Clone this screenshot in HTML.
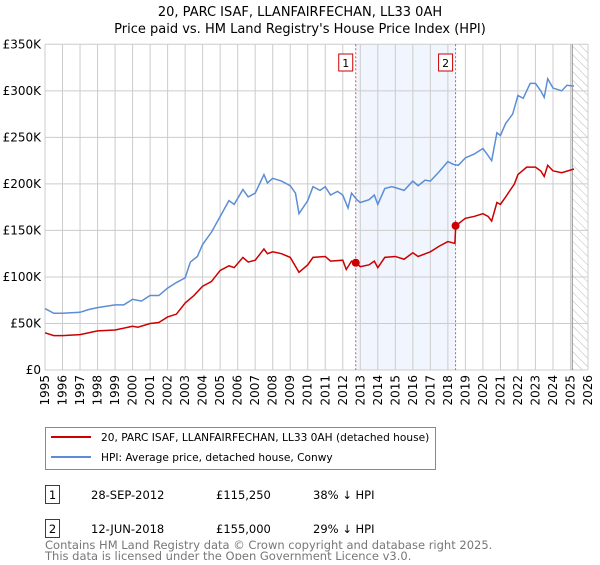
<!DOCTYPE html>
<html><head><meta charset="utf-8"><style>
body{margin:0;background:#fff;font-family:"Liberation Sans","DejaVu Sans",sans-serif;}
svg text{font-family:"DejaVu Sans","Liberation Sans",sans-serif;}
</style></head><body>
<svg id="c" width="600" height="560" xmlns="http://www.w3.org/2000/svg">
<defs><pattern id="hatch" width="6" height="6" patternUnits="userSpaceOnUse" patternTransform="rotate(-45)"><line x1="0" y1="0" x2="0" y2="6" stroke="#bbb" stroke-width="1"/></pattern></defs>
<text x="300" y="16" text-anchor="middle" font-size="13">20, PARC ISAF, LLANFAIRFECHAN, LL33 0AH</text>
<text x="300" y="33" text-anchor="middle" font-size="13">Price paid vs. HM Land Registry's House Price Index (HPI)</text>
<g id="plot"></g>
<g>
<rect x="45.5" y="427.5" width="390" height="42" fill="#fff" stroke="#888"/>
<line x1="51" y1="437" x2="91" y2="437" stroke="#cc0000" stroke-width="2"/>
<text x="101" y="441" font-size="10.6">20, PARC ISAF, LLANFAIRFECHAN, LL33 0AH (detached house)</text>
<line x1="51" y1="457" x2="91" y2="457" stroke="#5b8ed6" stroke-width="2"/>
<text x="101" y="461" font-size="10.6">HPI: Average price, detached house, Conwy</text>
</g>
<g font-size="11.5">
<rect x="45.5" y="485.5" width="14" height="18" fill="#fff" stroke="#cc0000"/><text x="52.5" y="499" text-anchor="middle">1</text>
<text x="91" y="499">28-SEP-2012</text><text x="216" y="499">£115,250</text><text x="313" y="499">38% ↓ HPI</text>
<rect x="45.5" y="519.5" width="14" height="18" fill="#fff" stroke="#cc0000"/><text x="52.5" y="533" text-anchor="middle">2</text>
<text x="91" y="533">12-JUN-2018</text><text x="216" y="533">£155,000</text><text x="313" y="533">29% ↓ HPI</text>
</g>
<text x="45" y="549" font-size="11.5" fill="#777">Contains HM Land Registry data © Crown copyright and database right 2025.</text>
<text x="45" y="560" font-size="11.5" fill="#777">This data is licensed under the Open Government Licence v3.0.</text>
</svg>
<script>
const yTicks=[0,50,100,150,200,250,300,350];
const yTickLabels=["£0","£50K","£100K","£150K","£200K","£250K","£300K","£350K"];
const xYears=[1995,1996,1997,1998,1999,2000,2001,2002,2003,2004,2005,2006,2007,2008,2009,2010,2011,2012,2013,2014,2015,2016,2017,2018,2019,2020,2021,2022,2023,2024,2025,2026];
const hpiT=[1995,1995.5,1996,1997,1997.5,1998,1999,1999.5,2000,2000.5,2001,2001.5,2002,2002.5,2003,2003.3,2003.7,2004,2004.5,2005,2005.5,2005.8,2006.3,2006.6,2007,2007.5,2007.7,2008,2008.5,2009,2009.3,2009.5,2010,2010.3,2010.7,2011,2011.3,2011.7,2012,2012.3,2012.5,2012.8,2013,2013.5,2013.8,2014,2014.4,2014.8,2015,2015.5,2016,2016.3,2016.7,2017,2017.5,2018,2018.3,2018.6,2019,2019.5,2020,2020.2,2020.5,2020.8,2021,2021.3,2021.7,2022,2022.3,2022.7,2023,2023.3,2023.5,2023.7,2024,2024.5,2024.8,2025.2];
const hpiV=[66,61,61,62,65,67,70,70,76,74,80,80,88,94,99,116,122,135,148,165,182,178,194,186,190,210,201,206,203,198,190,168,182,197,193,197,188,192,188,174,190,183,180,183,188,178,195,197,196,193,203,198,204,203,213,224,221,220,228,232,238,233,225,255,252,265,275,295,292,308,308,300,293,313,303,300,306,305];
const ppT=[1995,1995.5,1996,1997,1998,1999,2000,2000.3,2001,2001.5,2002,2002.5,2003,2003.5,2004,2004.5,2005,2005.5,2005.8,2006.3,2006.6,2007,2007.5,2007.7,2008,2008.5,2009,2009.5,2010,2010.3,2011,2011.3,2012,2012.2,2012.5,2012.75,2013,2013.5,2013.8,2014,2014.4,2015,2015.5,2016,2016.3,2017,2017.5,2018,2018.4,2018.45,2019,2019.5,2020,2020.3,2020.5,2020.8,2021,2021.3,2021.8,2022,2022.5,2023,2023.3,2023.5,2023.7,2024,2024.5,2025.2];
const ppV=[40,37,37,38,42,43,47,46,50,51,57,60,72,80,90,95,107,112,110,121,116,118,130,125,127,125,121,105,113,121,122,117,118,108,117,115.25,111,113,117,110,121,122,119,126,122,127,133,138,136,155,163,165,168,165,160,180,178,186,200,210,218,218,214,208,220,214,212,216];
const saleT=[2012.74,2018.44];
const saleV=[115.25,155];
const saleLabels=["1","2"];
const X0=45,X1=588,Y0=370,Y1=44.3;
const x=t=>X0+(t-1995)/(2026-1995)*(X1-X0);
const y=v=>Y0-v/350*(Y0-Y1);
const NS="http://www.w3.org/2000/svg";
const g=document.getElementById('plot');
function mk(tag,at){const e=document.createElementNS(NS,tag);for(const k in at)e.setAttribute(k,at[k]);g.appendChild(e);return e;}
let e;
e=mk('rect',{x:x(saleT[0]),y:Y1,width:x(saleT[1])-x(saleT[0]),height:Y0-Y1,fill:'#eef3fc',opacity:0.8});


e=mk('rect',{x:x(2025.1),y:Y1,width:X1-x(2025.1),height:Y0-Y1,fill:'url(#hatch)'});


yTicks.forEach((v,i)=>{
 e=mk('line',{x1:X0,x2:X1,y1:y(v),y2:y(v),stroke:'#ccc'});
 
 
 e=mk('text',{x:X0-4,y:y(v)+4,'text-anchor':'end','font-size':12});
 e.textContent=yTickLabels[i];
 
 
});
xYears.forEach(t=>{
 e=mk('line',{x1:x(t),x2:x(t),y1:Y1,y2:Y0,stroke:'#ccc'});
 
 
 e=mk('text',{x:0,y:0,'text-anchor':'end','font-size':12,transform:`translate(${x(t)+4},${Y0+5}) rotate(-90)`});
 e.textContent=t;
 
 
});
e=mk('line',{x1:x(2025.1),x2:x(2025.1),y1:Y1,y2:Y0,stroke:'#888'});


saleT.forEach((t,i)=>{
 e=mk('line',{x1:x(t),x2:x(t),y1:Y1,y2:Y0,stroke:'#e05050','stroke-dasharray':'2,2'});
 
 
 e=mk('rect',{x:x(t)-17,y:54,width:14,height:17,fill:'#fff',stroke:'#cc0000'});
 
 
 e=mk('text',{x:x(t)-10,y:67,'text-anchor':'middle','font-size':11});
 e.textContent=saleLabels[i];
 
 
});
e=mk('polyline',{points:hpiT.map((t,i)=>x(t)+','+y(hpiV[i])).join(' '),fill:'none',stroke:'#5b8ed6','stroke-width':1.5});


e=mk('polyline',{points:ppT.map((t,i)=>x(t)+','+y(ppV[i])).join(' '),fill:'none',stroke:'#cc0000','stroke-width':1.5});


saleT.forEach((t,i)=>{
 e=mk('circle',{cx:x(t),cy:y(saleV[i]),r:4,fill:'#cc0000'});
 
 
});
</script>
</body></html>
